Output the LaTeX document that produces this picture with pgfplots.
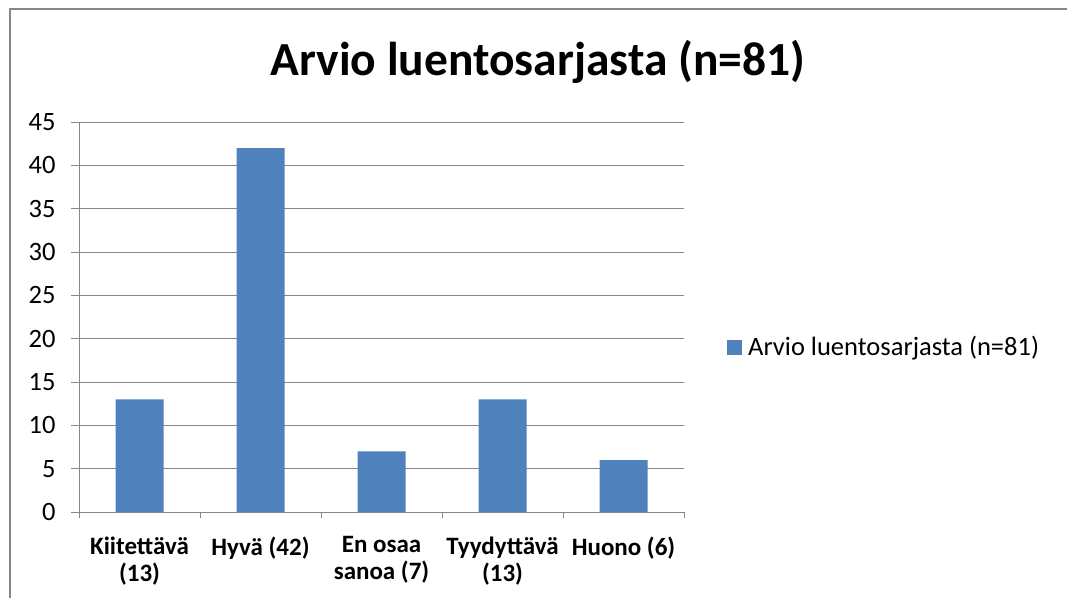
\documentclass[border=0pt]{standalone}
\usepackage{fontspec}
\setmainfont{Carlito}
\usepackage{pgfplots}
\pgfplotsset{compat=1.18}
\definecolor{barblue}{HTML}{4F81BD}
\definecolor{framegray}{HTML}{868686}

\begin{document}
\begin{tikzpicture}[x=1pt,y=1pt]
\useasboundingbox (0,0) rectangle (1067,597);
\begin{scope}
  \clip (0,0) rectangle (1067,597);
  \draw[framegray, line width=1.5pt] (10,-20) -- (10,588) -- (1090,588);
\end{scope}
% chart title
\node[font=\fontsize{47.5}{56}\selectfont\bfseries, anchor=base] at (538,521) {Arvio luentosarjasta (n=81)};
\begin{axis}[
    at={(79pt,85pt)}, anchor=south west,
    scale only axis, width=605pt, height=390pt,
    xmin=0.5, xmax=5.5, ymin=0, ymax=45,
    ytick={0,5,...,45},
    xtick={1,2,3,4,5},
    xticklabels={{Kiitettävä\\(13)},{Hyvä (42)},{En osaa\\sanoa (7)},{Tyydyttävä\\(13)},{Huono (6)}},
    minor xtick={0.5,1.5,2.5,3.5,4.5,5.5},
    major x tick style={draw=none},
    axis x line*=bottom, axis y line*=left,
    axis line style={framegray, line width=1pt, -},
    ymajorgrids, grid style={framegray, line width=1pt},
    tick align=outside, tick style={framegray, line width=1pt},
    major tick length=8pt, minor tick length=6pt,
    /pgf/number format/assume math mode=true,
    y tick label style={font=\fontsize{26.5}{30}\selectfont, xshift=-12pt},
    x tick label style={font=\fontsize{25}{27}\selectfont\bfseries, align=center, yshift=-13pt},
    legend style={at={(1.071,0.423)}, anchor=west, draw=none, fill=none,
                  font=\fontsize{26.5}{30}\selectfont, inner sep=0pt},
]
\addplot[ybar, bar width=48pt, fill=barblue, draw=none,
    legend image code/.code={\fill[barblue] (0pt,-7.5pt) rectangle (15pt,7.5pt); \path (19pt,0pt);}]
  coordinates {(1,13) (2,42) (3,7) (4,13) (5,6)};
\addlegendentry{Arvio luentosarjasta (n=81)}
\end{axis}
\end{tikzpicture}
\end{document}
